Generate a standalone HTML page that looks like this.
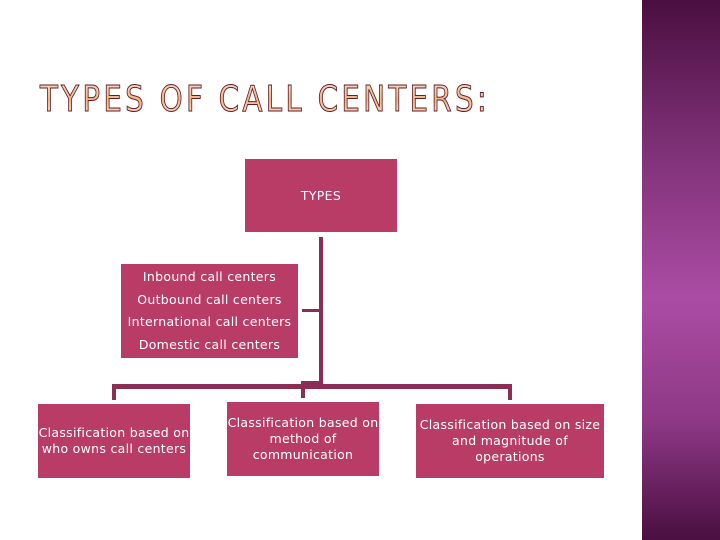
<!DOCTYPE html>
<html><head><meta charset="utf-8"><style>
body{margin:0;width:720px;height:540px;position:relative;background:#fff;font-family:"DejaVu Sans","Liberation Sans",sans-serif;overflow:hidden}
.b{position:absolute;background:#b83c66;color:#fff;font-size:12.5px;text-align:center;display:flex;align-items:center;justify-content:center;line-height:16px;letter-spacing:0.3px}
.l{position:absolute;background:#8a2e55}
.side{position:absolute;left:642px;top:0;width:78px;height:540px;background:linear-gradient(#4a0f40 0%,#7a2e72 25%,#ab4ca4 55%,#8e3886 78%,#4a0f40 100%)}
</style></head><body>
<div class="side"></div>
<svg style="position:absolute;left:0;top:0" width="720" height="540">
<defs><linearGradient id="g" x1="0" y1="0" x2="0" y2="1"><stop offset="0" stop-color="#fbe0cc"/><stop offset="0.5" stop-color="#f6b37d"/><stop offset="1" stop-color="#fde6d4"/></linearGradient></defs>
<text x="40" y="111" font-family="DejaVu Sans, sans-serif" font-size="36" fill="url(#g)" stroke="#5a1e2e" stroke-width="1" letter-spacing="4" textLength="450" lengthAdjust="spacingAndGlyphs">TYPES OF CALL CENTERS:</text>
</svg>
<div class="b" style="left:245px;top:159px;width:152px;height:73px">TYPES</div>
<div class="b" style="left:121px;top:264px;width:177px;height:94px;flex-direction:column;line-height:22.5px">Inbound call centers<br>Outbound call centers<br>International call centers<br>Domestic call centers</div>
<div class="l" style="left:319px;top:237px;width:4px;height:150px"></div>
<div class="l" style="left:302px;top:309px;width:18px;height:3px"></div>
<div class="l" style="left:112px;top:384px;width:400px;height:5px"></div>
<div class="l" style="left:112px;top:384px;width:4px;height:16px"></div>
<div class="l" style="left:301px;top:381px;width:4px;height:17px"></div>
<div class="l" style="left:301px;top:381px;width:20px;height:4px"></div>
<div class="l" style="left:508px;top:384px;width:4px;height:16px"></div>
<div class="b" style="left:38px;top:404px;width:152px;height:74px">Classification based on<br>who owns call centers</div>
<div class="b" style="left:227px;top:402px;width:152px;height:74px">Classification based on<br>method of<br>communication</div>
<div class="b" style="left:416px;top:404px;width:188px;height:74px">Classification based on size<br>and magnitude of<br>operations</div>
</body></html>
